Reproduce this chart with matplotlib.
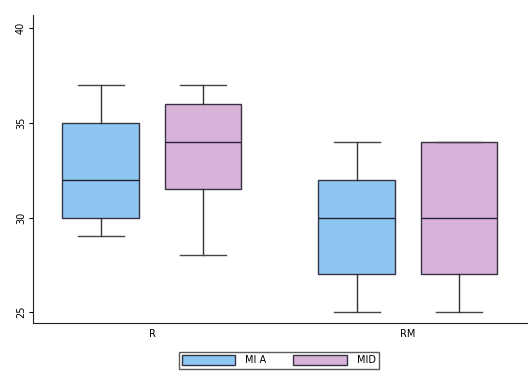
import matplotlib
matplotlib.use("Agg")
import matplotlib.pyplot as plt
from matplotlib.patches import Patch

groups = ["R", "RM"]
series = ["MI A", "MID"]
colors = ["#8ec6f2", "#d9b2da"]
# whislo, q1, med, q3, whishi per group per series
mia_low = [29, 25]
mia_q1 = [30, 27]
mia_med = [32, 30]
mia_q3 = [35, 32]
mia_high = [37, 34]
mid_low = [28, 25]
mid_q1 = [31.5, 27]
mid_med = [34, 30]
mid_q3 = [36, 34]
mid_high = [37, 34]

data = {
    "MI A": (mia_low, mia_q1, mia_med, mia_q3, mia_high),
    "MID": (mid_low, mid_q1, mid_med, mid_q3, mid_high),
}

fig = plt.figure(figsize=(5.28, 3.77), dpi=100)
ax = fig.add_axes([0.0625, 0.143, 0.9375, 0.817])

offsets = [-0.2, 0.2]
for si, name in enumerate(series):
    lo, q1, med, q3, hi = data[name]
    stats = []
    for gi in range(len(groups)):
        stats.append(dict(whislo=lo[gi], q1=q1[gi], med=med[gi], q3=q3[gi],
                          whishi=hi[gi], fliers=[], label=groups[gi]))
    pos = [gi + offsets[si] for gi in range(len(groups))]
    ax.bxp(stats, positions=pos, widths=0.3, patch_artist=True,
           showfliers=False, manage_ticks=False,
           boxprops=dict(facecolor=colors[si], edgecolor="#333344", linewidth=1.0),
           medianprops=dict(color="#222233", linewidth=1.0),
           whiskerprops=dict(color="#333333", linewidth=1.0),
           capprops=dict(color="#444444", linewidth=1.0),
           capwidths=0.18)

ax.set_xlim(-0.465, 1.47)
ax.set_ylim(24.42, 40.7)
ax.set_xticks(range(len(groups)))
ax.set_xticklabels(groups, fontsize=7)
ax.tick_params(axis="x", length=0, pad=4)
ax.set_yticks([25, 30, 35, 40])
ax.set_yticklabels(["25", "30", "35", "40"], rotation=90, va="center", fontsize=7)
ax.tick_params(axis="y", length=3, pad=2)
for s in ["top", "right"]:
    ax.spines[s].set_visible(False)
ax.spines["left"].set_color("#222222")
ax.spines["bottom"].set_color("#222222")

handles = [Patch(facecolor=colors[i], edgecolor="#333344", label=series[i]) for i in range(2)]
fig.legend(handles=handles, loc="center", bbox_to_anchor=(0.528, 0.045), ncol=2,
           fontsize=7, frameon=True, fancybox=False, edgecolor="#333333",
           handlelength=5.5, handleheight=1.2, columnspacing=2.8,
           borderpad=0.35, handletextpad=1.0)

fig.savefig("out.png", dpi=100)
